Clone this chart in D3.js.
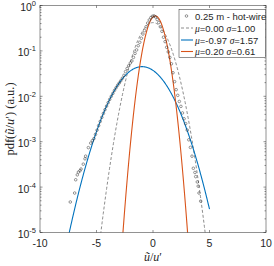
<!DOCTYPE html>
<html>
<head>
<meta charset="utf-8">
<script src="https://cdn.jsdelivr.net/npm/d3@7"></script>
<style>
  html, body { margin: 0; padding: 0; background: #fff; }
  svg { display: block; }
  text { font-family: "Liberation Sans", Arial, sans-serif; fill: #262626; }
  .serif { font-family: "Liberation Serif", "DejaVu Serif", serif; }
</style>
</head>
<body>
<div id="root"></div>
<script>
// measured pdf, 0.25 m hot-wire
var dataU = [-7.32, -6.93, -6.84, -6.70, -6.60, -6.46, -6.37, -6.17, -6.02, -5.96, -5.72, -5.51, -5.37,
    -5.23, -5.09, -4.95, -4.81, -4.67, -4.53, -4.39, -4.25, -4.11, -3.97, -3.83, -3.69, -3.55, -3.41,
    -3.27, -3.13, -2.99, -2.85, -2.71, -2.57, -2.43, -2.29, -2.15, -2.01, -1.87, -1.73, -1.59, -1.45,
    -1.31, -1.17, -1.03, -0.89, -0.75, -0.61, -0.47, -0.33, -0.19, -0.05, 0.09, 0.23, 0.37, 0.51,
    0.65, 0.79, 0.93, 1.07, 1.21, 1.35, 1.49, 1.63, 1.77, 1.91, 2.05, 2.19, 2.33, 2.47, 2.61, 2.75,
    2.89, 3.03, 3.17, 3.31, 3.45, 3.57, 3.71, 3.78, 3.92, 4.00, 4.07, 4.22];
var dataPdf = [4.7e-5, 7.4e-5, 1.45e-4, 1.86e-4, 2.14e-4, 2.29e-4, 2.5e-4, 3.2e-4, 4.2e-4, 4.8e-4, 7.4e-4, 9.3e-4, 1.05e-3,
    1.17e-3, 1.45e-3, 1.8e-3, 2.26e-3, 2.8e-3, 3.44e-3, 4.2e-3, 5.07e-3, 6.08e-3, 7.24e-3, 8.55e-3, 1.0e-2, 1.16e-2, 1.35e-2,
    1.54e-2, 1.75e-2, 1.96e-2, 2.2e-2, 2.5e-2, 2.9e-2, 3.5e-2, 4.1e-2, 4.7e-2, 5.4e-2, 6.0e-2, 7.2e-2, 8.8e-2, 0.105,
    0.13, 0.155, 0.19, 0.235, 0.28, 0.34, 0.41, 0.48, 0.54, 0.58, 0.59, 0.56, 0.49, 0.42,
    0.34, 0.27, 0.20, 0.16, 0.12, 0.095, 0.072, 0.052, 0.033, 0.021, 0.014, 0.0105, 0.0077, 0.006, 0.0043, 0.0032,
    0.0025, 0.0018, 0.0011, 7.5e-4, 4.8e-4, 2.6e-4, 2.1e-4, 1.7e-4, 1.3e-4, 1.05e-4, 7.4e-5, 4.9e-5];

// gaussian fits (amplitude in a.u.)
var fitMu = [0.00, -0.97, 0.20];
var fitSigma = [1.00, 1.57, 0.61];
var fitAmp = [0.42, 0.045, 0.59];
var fitRange = [[-10, 10], [-7.5, 5.0], [-10, 10]];
var fitColor = ["#7f7f7f", "#0072BD", "#D95319"];
var fitDash = ["3,2", null, null];

var xTicks = [-10, -5, 0, 5, 10];
var yExps = [0, -1, -2, -3, -4, -5];

var W = 274, H = 266;
var margin = { top: 5.5, left: 40, right: 8, bottom: 33.5 };
var pw = W - margin.left - margin.right,
    ph = H - margin.top - margin.bottom;

var x = d3.scaleLinear().domain([-10, 10]).range([margin.left, margin.left + pw]);
var y = d3.scaleLog().domain([1e-5, 1]).range([margin.top + ph, margin.top]);

var svg = d3.select("#root").append("svg").attr("width", W).attr("height", H);

svg.append("clipPath").attr("id", "clip").append("rect")
    .attr("x", margin.left).attr("y", margin.top).attr("width", pw).attr("height", ph);

var plot = svg.append("g").attr("clip-path", "url(#clip)");

// fit curves
fitMu.forEach(function (mu, k) {
    var pts = d3.range(0, 401).map(function (i) {
        var u = fitRange[k][0] + (fitRange[k][1] - fitRange[k][0]) * i / 400;
        var s = fitSigma[k];
        return [u, fitAmp[k] * Math.exp(-(u - mu) * (u - mu) / (2 * s * s))];
    }).filter(function (p) { return p[1] > 1e-6; });
    var line = d3.line().x(function (d) { return x(d[0]); }).y(function (d) { return y(d[1]); });
    plot.append("path").datum(pts)
        .attr("d", line)
        .attr("fill", "none")
        .attr("stroke", fitColor[k])
        .attr("stroke-width", k === 0 ? 0.9 : 1.1)
        .attr("stroke-dasharray", fitDash[k]);
});

// data markers
plot.selectAll(".pt").data(dataU).enter().append("circle")
    .attr("class", "pt")
    .attr("cx", function (d) { return x(d); })
    .attr("cy", function (d, i) { return y(dataPdf[i]); })
    .attr("r", 1.3)
    .attr("fill", "none")
    .attr("stroke", "#333")
    .attr("stroke-width", 0.5);

// box + ticks
var axisColor = "#262626";
svg.append("rect")
    .attr("x", margin.left).attr("y", margin.top).attr("width", pw).attr("height", ph)
    .attr("fill", "none").attr("stroke", axisColor).attr("stroke-width", 0.5);

var tickG = svg.append("g").attr("stroke", axisColor).attr("stroke-width", 0.5);
xTicks.forEach(function (t) {
    tickG.append("line").attr("x1", x(t)).attr("x2", x(t)).attr("y1", y(1e-5)).attr("y2", y(1e-5) - 2.5);
    tickG.append("line").attr("x1", x(t)).attr("x2", x(t)).attr("y1", y(1)).attr("y2", y(1) + 2.5);
});
yExps.forEach(function (e) {
    var v = Math.pow(10, e);
    [margin.left, margin.left + pw].forEach(function (xx, side) {
        var dir = side === 0 ? 1 : -1;
        tickG.append("line").attr("x1", xx).attr("x2", xx + dir * 2.5).attr("y1", y(v)).attr("y2", y(v));
        if (e < 0) {
            d3.range(2, 10).forEach(function (m) {
                var mv = m * v;
                tickG.append("line").attr("x1", xx).attr("x2", xx + dir * 1.5).attr("y1", y(mv)).attr("y2", y(mv));
            });
        }
    });
});

// x tick labels
svg.selectAll(".xl").data(xTicks).enter().append("text")
    .attr("x", function (d) { return x(d); })
    .attr("y", y(1e-5) + 14.5)
    .attr("text-anchor", "middle")
    .attr("font-size", 10.5)
    .text(function (d) { return d < 0 ? "-" + Math.abs(d) : d; });

// y tick labels 10^e
yExps.forEach(function (e) {
    var t = svg.append("text")
        .attr("x", margin.left - 4)
        .attr("y", y(Math.pow(10, e)) + 5.5)
        .attr("text-anchor", "end")
        .attr("font-size", 10.5);
    t.append("tspan").text("10");
    t.append("tspan").attr("dy", -5).attr("font-size", 7.5).text(e === 0 ? "0" : "-" + Math.abs(e));
});

// axis labels
var xl = svg.append("text").attr("class", "serif")
    .attr("x", margin.left + pw / 2).attr("y", H - 5.5)
    .attr("text-anchor", "middle").attr("font-size", 12);
xl.append("tspan").attr("font-style", "italic").text("ũ");
xl.append("tspan").text("/");
xl.append("tspan").attr("font-style", "italic").text("u");
xl.append("tspan").text("′");

var yl = svg.append("text").attr("class", "serif")
    .attr("transform", "translate(14," + (margin.top + ph / 2) + ") rotate(-90)")
    .attr("text-anchor", "middle").attr("font-size", 12.5);
yl.append("tspan").text("pdf(");
yl.append("tspan").attr("font-style", "italic").text("ũ");
yl.append("tspan").text("/");
yl.append("tspan").attr("font-style", "italic").text("u");
yl.append("tspan").text("′) (a.u.)");

// legend
var legX = 179, legY = 9.5, legW = 86.5, legH = 48;
var leg = svg.append("g");
leg.append("rect").attr("x", legX).attr("y", legY).attr("width", legW).attr("height", legH)
    .attr("fill", "#fff").attr("stroke", axisColor).attr("stroke-width", 0.5);

var rowY = [16, 28, 40, 51.5];
leg.append("circle").attr("cx", 186.5).attr("cy", rowY[0]).attr("r", 1.3)
    .attr("fill", "none").attr("stroke", "#333").attr("stroke-width", 0.5);
leg.append("text").attr("x", 195).attr("y", rowY[0] + 3.5).attr("font-size", 9.5).text("0.25 m - hot-wire");

fitMu.forEach(function (mu, k) {
    var ry = rowY[k + 1];
    leg.append("line").attr("x1", 181).attr("x2", 193).attr("y1", ry).attr("y2", ry)
        .attr("stroke", fitColor[k]).attr("stroke-width", k === 0 ? 0.9 : 1.1)
        .attr("stroke-dasharray", fitDash[k]);
    var t = leg.append("text").attr("x", 195).attr("y", ry + 3.5).attr("font-size", 9.5);
    t.append("tspan").attr("class", "serif").attr("font-style", "italic").text("μ");
    t.append("tspan").text("=" + mu.toFixed(2) + " ");
    t.append("tspan").attr("class", "serif").attr("font-style", "italic").text("σ");
    t.append("tspan").text("=" + fitSigma[k].toFixed(2));
});
</script>
</body>
</html>
